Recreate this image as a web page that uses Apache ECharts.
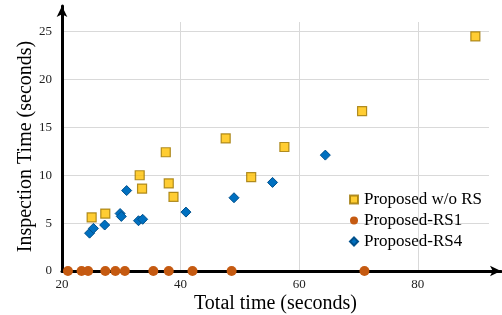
<!DOCTYPE html>
<html lang="en">
<head>
    <meta charset="UTF-8">
    <title>Inspection time vs total time</title>
    <script src="https://cdn.jsdelivr.net/npm/echarts@6/dist/echarts.min.js"></script>
    <style>
        html, body { margin: 0; padding: 0; background: #fff; }
        #main { width: 502px; height: 315px; }
    </style>
</head>
<body>
    <div id="main"></div>
    <script>
        // values: [total time, inspection time]
        var seriesNames = ['Proposed w/o RS', 'Proposed-RS1', 'Proposed-RS4'];
        var noRS = [
            [25.0, 5.6], [27.3, 6.0], [33.1, 10.0], [33.5, 8.6],
            [37.5, 12.4], [38.0, 9.15], [38.8, 7.75], [47.6, 13.85],
            [51.9, 9.8], [57.5, 12.95], [70.6, 16.7], [89.7, 24.5]
        ];
        var rs1 = [
            [21.0, 0], [23.3, 0], [24.4, 0], [27.3, 0], [29.0, 0], [30.6, 0],
            [35.4, 0], [38.0, 0], [42.0, 0], [48.6, 0], [71.0, 0]
        ];
        var rs4 = [
            [24.65, 3.95], [25.3, 4.45], [27.2, 4.8], [29.8, 6.0], [30.0, 5.7],
            [30.9, 8.4], [32.9, 5.25], [33.6, 5.4], [40.9, 6.15], [49.0, 7.65],
            [55.5, 9.25], [64.4, 12.1]
        ];

        var serif = '"Liberation Serif", "DejaVu Serif", serif';
        var myChart = echarts.init(document.getElementById('main'));

        var option = {
            backgroundColor: '#fff',
            animation: false,
            legend: {
                orient: 'vertical',
                left: 344,
                top: 186,
                itemWidth: 8,
                itemHeight: 8,
                itemGap: 4,
                textStyle: { fontFamily: serif, fontSize: 17, color: '#000', padding: [0, 0, 0, 1] },
                data: [
                    { name: seriesNames[0], icon: 'rect' },
                    { name: seriesNames[1], icon: 'circle' },
                    { name: seriesNames[2], icon: 'diamond' }
                ]
            },
            grid: [
                { left: 62, right: 13, top: 22, bottom: 44, outerBoundsMode: 'none', containLabel: false },
                // only for the arrowed axis lines
                { left: 62, right: 1, top: 6, bottom: 44, outerBoundsMode: 'none', containLabel: false }
            ],
            xAxis: [{
                gridIndex: 0,
                type: 'value',
                min: 20,
                max: 92,
                interval: 20,
                name: 'Total time (seconds)',
                nameLocation: 'middle',
                nameGap: 23,
                nameMoveOverlap: false,
                nameTextStyle: { fontFamily: serif, fontSize: 20, color: '#000' },
                axisLine: { show: false },
                axisTick: { show: false },
                axisLabel: {
                    fontFamily: serif, fontSize: 13, color: '#222', margin: 7,
                    showMaxLabel: false
                },
                splitLine: { show: true, showMaxLine: false, showMinLine: false,
                    lineStyle: { color: '#d9d9d9', width: 1 } }
            }, {
                gridIndex: 1,
                type: 'value',
                min: 0, max: 1,
                axisLine: { show: true, symbol: ['none', 'arrow'], symbolSize: [8, 11],
                    lineStyle: { color: '#000', width: 3 } },
                axisTick: { show: false },
                axisLabel: { show: false },
                splitLine: { show: false }
            }],
            yAxis: [{
                gridIndex: 0,
                type: 'value',
                min: 0,
                max: 26,
                interval: 5,
                name: 'Inspection Time (seconds)',
                nameLocation: 'middle',
                nameGap: 26,
                nameMoveOverlap: false,
                nameTextStyle: { fontFamily: serif, fontSize: 20, color: '#000' },
                axisLine: { show: false },
                axisTick: { show: false },
                axisLabel: {
                    fontFamily: serif, fontSize: 13, color: '#222', margin: 10,
                    showMaxLabel: false
                },
                splitLine: { show: true, showMaxLine: false, showMinLine: false,
                    lineStyle: { color: '#d9d9d9', width: 1 } }
            }, {
                gridIndex: 1,
                type: 'value',
                min: 0, max: 1,
                axisLine: { show: true, symbol: ['none', 'arrow'], symbolSize: [8, 11],
                    lineStyle: { color: '#000', width: 3 } },
                axisTick: { show: false },
                axisLabel: { show: false },
                splitLine: { show: false }
            }],
            series: [{
                name: seriesNames[0],
                type: 'scatter',
                xAxisIndex: 0, yAxisIndex: 0,
                symbol: 'rect',
                symbolSize: 9,
                itemStyle: { color: '#ffc000', borderColor: '#9c7400', borderWidth: 1.2 },
                data: noRS,
                z: 3
            }, {
                name: seriesNames[1],
                type: 'scatter',
                xAxisIndex: 0, yAxisIndex: 0,
                symbol: 'circle',
                symbolSize: 10,
                itemStyle: { color: '#c55a11', opacity: 1 },
                data: rs1,
                z: 4
            }, {
                name: seriesNames[2],
                type: 'scatter',
                xAxisIndex: 0, yAxisIndex: 0,
                symbol: 'diamond',
                symbolSize: [10, 10],
                itemStyle: { color: '#0070c0', borderColor: '#00508c', borderWidth: 1, opacity: 1 },
                data: rs4,
                z: 3
            }]
        };

        myChart.setOption(option);
    </script>
</body>
</html>
